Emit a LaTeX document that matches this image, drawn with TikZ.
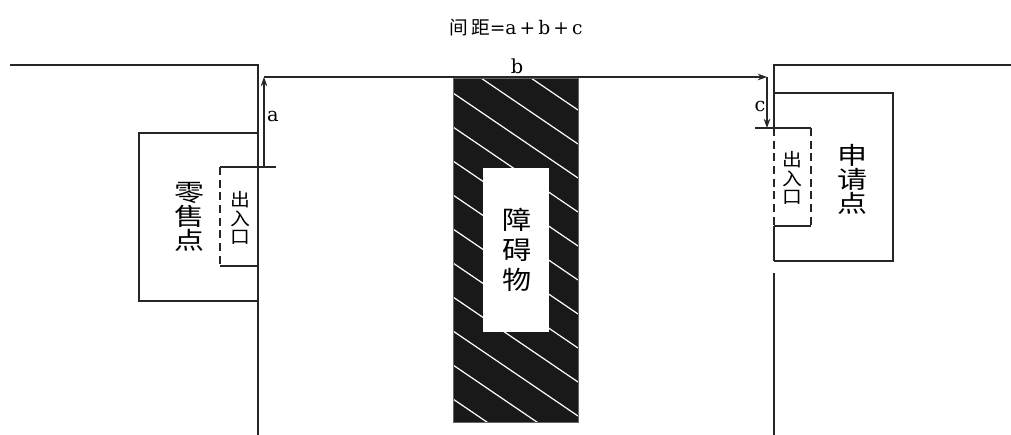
\documentclass[tikz,border=0pt]{standalone}
\usepackage{fontspec}
\usetikzlibrary{arrows.meta}
\setmainfont{DejaVu Serif}
\newfontfamily\cjk{Noto Sans CJK SC}
\begin{document}
\begin{tikzpicture}[x=0.75pt,y=-0.75pt,line width=1.1pt,line join=miter,>={Stealth[length=7pt,width=5pt]}]
	\tikzset{every node/.style={inner sep=0pt},
		wall/.style={line width=1.3pt,black!85},
		door/.style={line width=1.2pt,black!85,dash pattern=on 6pt off 3.5pt},
		dim/.style={line width=1pt,black!85},
		lbl/.style={font=\fontsize{14.5}{14.5}\selectfont},
		vtxt/.style={align=center,xscale=1.25,transform shape,font=\cjk\fontsize{18}{18}\selectfont},
		dtxt/.style={align=center,xscale=1.1,transform shape,font=\cjk\fontsize{13.5}{14}\selectfont}}
	\useasboundingbox (0,0) rectangle (1011,435);
	% obstacle
	\begin{scope}
		\clip (453,78) rectangle (578,422);
		\fill[black!90] (453,78) rectangle (578,422);
		\foreach \k in {-6,...,10}
		\draw[white,line width=0.9pt] (453,93+34*\k)--(578,178+34*\k);
	\end{scope}
	\draw[black!60,line width=0.5pt] (453,78) rectangle (578,422);
	\fill[white] (483,168) rectangle (549,332);
	\node[vtxt,xscale=0.92,font=\cjk\fontsize{19}{22.5}\selectfont] (obst) at (517,250) {障\\碍\\物};
	% left side: retail point
	\draw[wall] (10,65)--(258,65)--(258,435);
	\draw[wall] (258,133)--(139,133)--(139,301)--(258,301);
	\draw[wall] (276,167)--(220,167);
	\draw[door] (220,167)--(220,266);
	\draw[wall] (220,266)--(258,266);
	\node[vtxt] (retail) at (189,217) {零\\售\\点};
	\node[dtxt] (doorL) at (240,218) {出\\入\\口};
	% right side: applicant point
	\draw[wall] (1011,65)--(774,65)--(774,128);
	\draw[door] (774,128)--(774,226);
	\draw[wall] (774,226)--(774,261);
	\draw[wall] (774,273)--(774,435);
	\draw[wall] (774,93)--(893,93)--(893,261)--(774,261);
	\draw[wall] (755,128)--(811,128);
	\draw[door] (811,128)--(811,226);
	\draw[wall] (811,226)--(774,226);
	\node[vtxt] (apply) at (852,179) {申\\请\\点};
	\node[dtxt] (doorR) at (792,178) {出\\入\\口};
	% distances
	\coordinate (pa) at (264,167);
	\coordinate (pb) at (264,77);
	\coordinate (pc) at (767,77);
	\coordinate (pd) at (767,128);
	\draw[dim,->] (pa)--(pb);
	\draw[dim,->] (pb)--(pc);
	\draw[dim,->] (pc)--(pd);
	\node[lbl] (la) at (273,116) {a};
	\node[lbl] (lb) at (517,66) {b};
	\node[lbl] (lc) at (760,106) {c};
	\node[font=\fontsize{14}{14}\selectfont] (title) at (516,28) {{\cjk 间\,距}=a\,+\,b\,+\,c};
\end{tikzpicture}
\end{document}
